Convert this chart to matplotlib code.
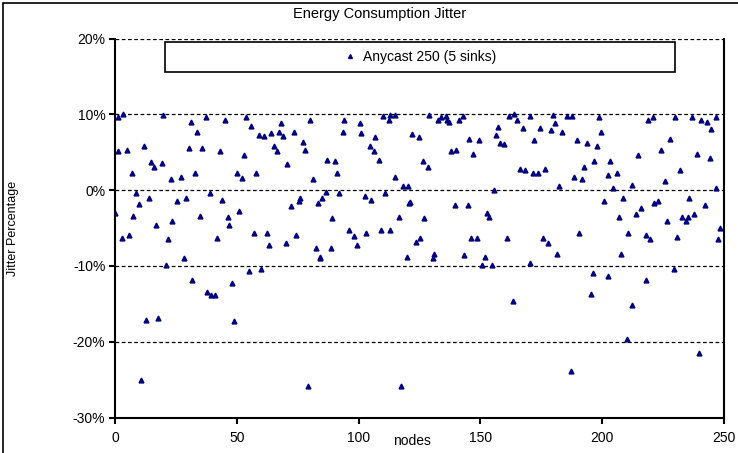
import matplotlib
matplotlib.use('Agg')
import matplotlib.pyplot as plt
import matplotlib.ticker as mticker
from matplotlib.patches import Rectangle

plt.rcParams['font.family'] = ['Liberation Sans', 'DejaVu Sans']
plt.rcParams['axes.unicode_minus'] = False

# node index vs jitter (%)
nodes = [1.4, 3.4, 19.8, 37.3, 45.0, 53.7, 31.0, 56.0, 59.2, 33.7, 1.4, 5.1, 12.0, 30.3, 35.9, 43.0,
         52.9, 14.6, 16.1, 19.1, 7.0, 23.0, 26.9, 32.8, 50.1, 52.2, 58.0, 8.6, 14.1, 10.0, 29.1, 25.5,
         38.9, 44.0, 0.0, 7.5, 16.8, 23.6, 34.8, 46.2, 51.0, 46.9, 2.7, 5.7, 21.9, 41.9, 57.1, 28.3,
         68.3, 79.9, 94.0, 100.4, 110.0, 112.7, 114.8, 112.4, 61.2, 64.2, 67.2, 69.0, 73.4, 77.2, 93.6,
         101.0, 106.7, 65.2, 66.3, 77.9, 104.5, 106.5, 70.8, 87.0, 90.5, 108.2, 81.3, 91.3, 115.0, 118.2,
         120.2, 86.5, 91.9, 76.1, 75.6, 85.0, 83.3, 102.5, 105.2, 110.7, 120.6, 72.3, 89.0, 116.4, 62.2,
         63.1, 74.2, 70.1, 96.0, 98.0, 103.2, 109.3, 113.0, 99.5, 82.7, 88.5, 84.3, 119.8,
         129.1, 132.5, 133.9, 135.9, 137.3, 136.2, 141.4, 142.8, 161.9, 163.9, 164.9, 170.4, 179.9,
         157.2, 180.8, 167.4, 174.4, 179.0, 122.0, 124.7, 145.2, 149.3, 156.4, 158.2, 159.6, 172.1,
         138.0, 140.0, 147.1, 126.6, 128.4, 166.3, 168.4, 171.7, 173.5, 176.4, 155.7, 182.1, 121.3,
         127.0, 139.6, 144.8, 152.6, 153.7, 123.4, 125.3, 146.2, 148.5, 160.8, 175.5, 177.6, 130.9,
         130.5, 143.2, 151.8, 181.3,
         185.5, 187.4, 198.8, 218.9, 220.9, 229.8, 237.0, 240.4, 242.9, 246.6, 244.5, 183.3, 199.7,
         189.6, 193.7, 197.7, 227.9, 224.0, 239.1, 244.1, 214.9, 196.7, 203.3, 192.6, 205.9, 202.5,
         188.5, 191.7, 232.0, 225.8, 204.6, 212.4, 246.6, 200.8, 208.7, 221.3, 223.0, 235.7, 242.1,
         215.8, 213.8, 206.7, 226.5, 232.9, 234.2, 235.2, 237.7, 248.4, 190.6, 210.4, 217.9, 219.5,
         230.6, 247.7, 207.9,
         21.1, 31.8, 37.8, 39.6, 41.2, 48.2, 55.0, 59.9, 12.7, 17.7, 48.8, 10.5, 79.1, 117.3, 84.2,
         150.7, 154.8, 170.5, 196.2, 202.3, 217.8, 229.3, 195.2, 163.3, 212.3, 210.3, 187.3, 239.9]

jitter = [9.6, 10.1, 9.9, 9.7, 9.3, 9.7, 9.0, 8.5, 7.3, 7.7, 5.1, 5.3, 5.8, 5.5, 5.5, 5.1,
          4.6, 3.7, 3.0, 3.6, 2.2, 1.4, 1.7, 2.2, 2.2, 1.6, 2.3, -0.4, -1.0, -1.8, -1.0, -1.5,
          -0.4, -1.3, -3.0, -3.4, -4.6, -4.1, -3.4, -3.6, -2.8, -4.6, -6.3, -5.9, -6.4, -6.3, -5.7, -9.0,
          8.8, 9.3, 9.2, 8.8, 9.8, 9.9, 9.9, 9.2, 7.2, 7.5, 7.7, 7.2, 7.7, 6.3, 7.7,
          7.5, 7.0, 5.8, 5.1, 5.3, 5.8, 5.1, 3.5, 4.0, 3.9, 4.0, 1.4, 2.2, 1.7, 0.5,
          0.5, -0.2, -0.4, -1.1, -1.5, -1.1, -1.7, -0.8, -1.3, -0.4, -1.7, -2.1, -3.7, -3.6, -5.6,
          -7.2, -5.9, -7.0, -5.3, -6.1, -5.6, -5.3, -5.3, -7.3, -7.7, -7.7, -8.8, -8.8,
          9.9, 9.2, 9.6, 9.8, 9.0, 9.2, 9.3, 9.8, 9.8, 10.0, 9.3, 9.8, 9.9,
          8.3, 8.8, 8.2, 8.2, 7.9, 7.4, 7.0, 6.7, 6.6, 7.3, 6.2, 6.1, 6.6,
          5.1, 5.3, 4.8, 3.9, 3.1, 2.8, 2.7, 2.2, 2.3, 2.8, 0.0, 0.5, -1.6,
          -3.7, -2.0, -2.0, -3.0, -3.6, -6.9, -6.3, -6.3, -6.3, -6.3, -6.3, -7.0, -8.4,
          -8.9, -8.6, -8.8, -8.4,
          9.8, 9.8, 9.7, 9.3, 9.7, 9.7, 9.7, 9.3, 9.0, 9.7, 8.1, 7.7, 7.7,
          6.6, 6.2, 5.8, 6.7, 5.3, 4.8, 4.2, 4.6, 3.9, 3.9, 3.1, 2.3, 2.0,
          1.7, 1.4, 2.7, 1.2, 0.3, 0.7, 0.3, -1.5, -1.1, -1.7, -1.5, -1.1, -2.0,
          -2.4, -3.2, -3.6, -4.1, -3.6, -4.1, -3.6, -3.1, -5.0, -5.6, -5.6, -5.9, -6.4,
          -6.2, -6.4, -8.4,
          -9.9, -11.9, -13.5, -13.8, -13.8, -12.3, -10.7, -10.4, -17.1, -16.9, -17.3, -25.1, -25.9, -25.9, -9.0,
          -9.9, -9.9, -9.6, -10.9, -11.3, -11.9, -10.4, -13.7, -14.6, -15.2, -19.6, -23.8, -21.5]

y_ticks = [-30, -20, -10, 0, 10, 20]
x_ticks = [0, 50, 100, 150, 200, 250]

W, H = 738, 453
fig = plt.figure(figsize=(W / 100, H / 100), dpi=100)
ax = fig.add_axes([115 / W, 1 - 417.5 / H, (724 - 115) / W, (417.5 - 38.5) / H])

ax.plot(nodes, jitter, linestyle='none', marker='^', markersize=3.5,
        color='#00007f', label='Anycast 250 (5 sinks)', zorder=4)

ax.set_xlim(0, 250)
ax.set_ylim(-30, 20)
ax.set_xticks(x_ticks)
ax.set_yticks(y_ticks)
ax.yaxis.set_major_formatter(mticker.FuncFormatter(lambda v, p: '%d%%' % v))
ax.tick_params(axis='both', direction='out', length=4, width=1.5, labelsize=10, colors='black')
ax.tick_params(axis='x', pad=6)
ax.tick_params(axis='y', pad=3)

for y in [20, 10, 0, -10, -20]:
    ax.axhline(y, color='black', linestyle=(0, (3, 2)), linewidth=0.9, zorder=1)

ax.spines['top'].set_visible(False)
for s in ['left', 'bottom', 'right']:
    ax.spines[s].set_linewidth(1.5)
    ax.spines[s].set_color('black')

# legend box
ax.add_patch(Rectangle((50 / 609, (417.5 - 72) / 379), 510 / 609, 30 / 379,
                       transform=ax.transAxes, facecolor='white', edgecolor='black',
                       linewidth=1.2, zorder=5, clip_on=False))
leg = ax.legend(loc='center', bbox_to_anchor=((421 - 115) / 609, (417.5 - 57) / 379),
                frameon=False, fontsize=10, handlelength=0.6, handletextpad=0.6,
                markerscale=0.8)
leg.set_zorder(6)

fig.text(380 / W, 1 - 14 / H, 'Energy Consumption Jitter', ha='center', va='center', fontsize=10.5)
fig.text(13 / W, 1 - 228 / H, 'Jitter Percentage', ha='center', va='center',
         rotation=90, fontsize=9)
fig.text(412 / W, 1 - 441 / H, 'nodes', ha='center', va='center', fontsize=10)

# outer chart frame
fig.patches.append(Rectangle((3 / W, -0.5), 1.5, 1.5 - 3 / H, transform=fig.transFigure,
                             fill=False, edgecolor='black', linewidth=1.2))

fig.savefig('out.png', dpi=100)
